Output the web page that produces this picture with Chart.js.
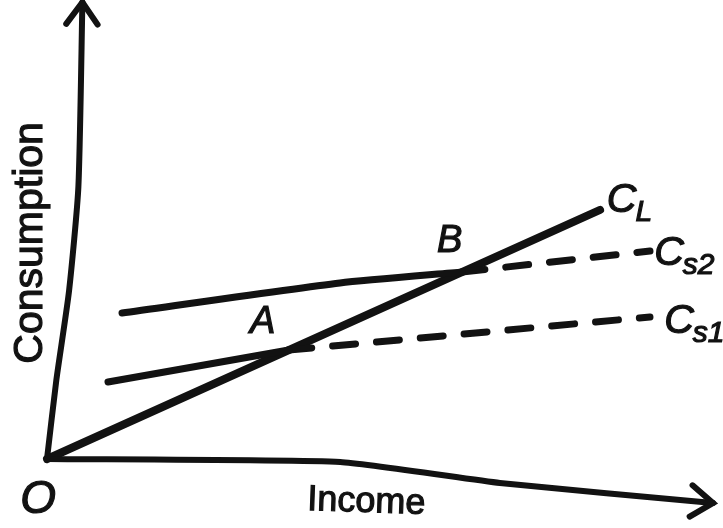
<!DOCTYPE html>
<html>
<head>
<meta charset="utf-8">
<script src="https://cdn.jsdelivr.net/npm/chart.js@4/dist/chart.umd.min.js"></script>
<style>
  html, body { margin: 0; padding: 0; background: #fff; }
  #wrap { width: 723px; height: 528px; }
</style>
</head>
<body>
<div id="wrap"><canvas id="diagram" width="723" height="528"></canvas></div>
<script>
// Income (x) and consumption (y) values, arbitrary units, origin O = (0, 0)
const longIncome = [0, 82.8];
const longCons = [0, 54.85];

const s1SolidIncome = [9.13, 36.2];
const s1SolidCons = [16.96, 24.0];
const s1DashIncome = [36.2, 90.27];
const s1DashCons = [24.0, 31.28];

const s2SolidIncome = [11.23, 43.86, 62.13];
const s2SolidCons = [32.16, 38.77, 41.19];
const s2DashIncome = [62.13, 90.27];
const s2DashCons = [41.19, 45.81];

// hand-drawn axes (slightly bent in the scan)
const yAxisIncome = [0, 1.4, 3.3, 4.7, 5.3];
const yAxisCons = [0, 17.4, 37, 60, 100.6];
const xAxisIncome = [0, 43.9, 67.8, 99.7];
const xAxisCons = [0, -0.66, -5.29, -9.69];

// labels: text, subscript, position (data units)
const labelText = ["O", "A", "B", "C", "C", "C", "Income", "Consumption"];
const labelSub = ["", "", "", "L", "s2", "s1", "", ""];
const labelIncome = [-4.0, 30.4, 58.4, 83.8, 90.9, 92.4, 47.75, -0.75];
const labelCons = [-11.9, 27.75, 45.6, 54.4, 42.7, 27.75, -11.67, 47.6];

const ink = "#121212";

function pts(xs, ys) {
  return xs.map((x, i) => ({ x: x, y: ys[i] }));
}

function lineSet(xs, ys, width, opts) {
  return Object.assign({
    data: pts(xs, ys),
    showLine: true,
    borderColor: ink,
    borderWidth: width,
    borderCapStyle: "round",
    borderJoinStyle: "round",
    pointRadius: 0,
    fill: false,
    clip: false,
    tension: 0
  }, opts || {});
}

// open arrowheads at the ends of the axes
const arrowPlugin = {
  id: "arrows",
  afterDatasetsDraw(chart) {
    const ctx = chart.ctx;
    chart.data.datasets.forEach((ds, i) => {
      if (!ds.arrow) return;
      const pts = chart.getDatasetMeta(i).data;
      const a = pts[pts.length - 2], b = pts[pts.length - 1];
      const ang = Math.atan2(b.y - a.y, b.x - a.x);
      const len = 27, spread = 0.62;
      ctx.save();
      ctx.strokeStyle = ink;
      ctx.lineWidth = 6;
      ctx.lineCap = "round";
      ctx.lineJoin = "miter";
      ctx.beginPath();
      ctx.moveTo(b.x - len * Math.cos(ang - spread), b.y - len * Math.sin(ang - spread));
      ctx.lineTo(b.x, b.y);
      ctx.lineTo(b.x - len * Math.cos(ang + spread), b.y - len * Math.sin(ang + spread));
      ctx.stroke();
      ctx.restore();
    });
  }
};

// text labels placed through the scales
const labelPlugin = {
  id: "labels",
  afterDraw(chart) {
    const ctx = chart.ctx;
    const sx = chart.scales.x, sy = chart.scales.y;
    ctx.save();
    ctx.fillStyle = ink;
    ctx.strokeStyle = ink;
    ctx.lineWidth = 1.2;
    ctx.textBaseline = "alphabetic";
    const put = (t, x, y) => { ctx.fillText(t, x, y); ctx.strokeText(t, x, y); };
    labelText.forEach((t, i) => {
      const px = sx.getPixelForValue(labelIncome[i]);
      const py = sy.getPixelForValue(labelCons[i]);
      ctx.save();
      ctx.translate(px, py);
      if (t === "Consumption") {
        ctx.rotate(-Math.PI / 2);
        ctx.font = "41px 'Liberation Sans', Arial, sans-serif";
        ctx.textAlign = "center";
        put(t, 0, 0);
      } else if (t === "Income") {
        ctx.rotate(0.035);
        ctx.font = "36px 'Liberation Sans', Arial, sans-serif";
        ctx.textAlign = "center";
        put(t, 0, 0);
      } else {
        const size = t === "O" ? 46 : (labelSub[i] ? 41 : 38);
        ctx.font = "italic " + size + "px 'Liberation Sans', Arial, sans-serif";
        ctx.textAlign = "left";
        put(t, 0, 0);
        if (labelSub[i]) {
          const w = ctx.measureText(t).width;
          ctx.font = "italic 30px 'Liberation Sans', Arial, sans-serif";
          put(labelSub[i], w - 1, 9);
        }
      }
      ctx.restore();
    });
    ctx.restore();
  }
};

const dash = { borderDash: [23, 21], borderCapStyle: "round" };

new Chart(document.getElementById("diagram").getContext("2d"), {
  type: "scatter",
  data: {
    datasets: [
      lineSet(yAxisIncome, yAxisCons, 6, { tension: 0.2, arrow: true }),
      lineSet(xAxisIncome, xAxisCons, 6, { tension: 0.15, arrow: true }),
      lineSet(s1SolidIncome, s1SolidCons, 7),
      lineSet(s1DashIncome, s1DashCons, 7, dash),
      lineSet(s2SolidIncome, s2SolidCons, 7, { tension: 0.2 }),
      lineSet(s2DashIncome, s2DashCons, 7, dash),
      lineSet(longIncome, longCons, 8)
    ]
  },
  options: {
    responsive: false,
    animation: false,
    events: [],
    layout: { padding: 0 },
    plugins: { legend: { display: false }, tooltip: { enabled: false } },
    scales: {
      x: { type: "linear", display: false, min: -7.036, max: 101.2 },
      y: { type: "linear", display: false, min: -15.2, max: 101.1 }
    }
  },
  plugins: [arrowPlugin, labelPlugin]
});
</script>
</body>
</html>
